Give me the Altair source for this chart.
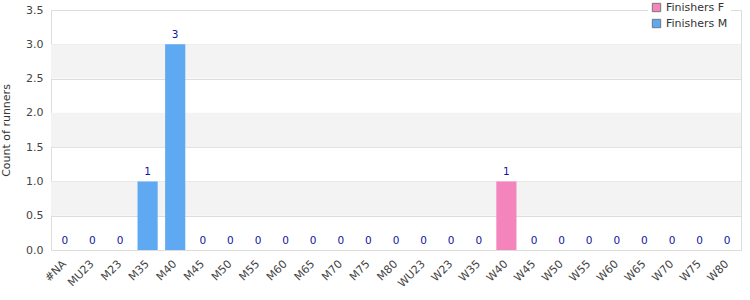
import altair as alt
import pandas as pd

categories = ["#NA", "MU23", "M23", "M35", "M40", "M45", "M50", "M55", "M60", "M65",
              "M70", "M75", "M80", "WU23", "W23", "W35", "W40", "W45", "W50", "W55",
              "W60", "W65", "W70", "W75", "W80"]
finishers_f = [0, 0, 0, 0, 0, 0, 0, 0, 0, 0, 0, 0, 0, 0, 0, 0, 1, 0, 0, 0, 0, 0, 0, 0, 0]
finishers_m = [0, 0, 0, 1, 3, 0, 0, 0, 0, 0, 0, 0, 0, 0, 0, 0, 0, 0, 0, 0, 0, 0, 0, 0, 0]
series_names = ["Finishers F", "Finishers M"]
series_colors = ["#F384BC", "#5EA9F2"]
band_lo = [0.5, 1.5, 2.5]
band_hi = [1.0, 2.0, 3.0]
y_ticks = [0, 0.5, 1, 1.5, 2, 2.5, 3, 3.5]

rows = []
for c, f, m in zip(categories, finishers_f, finishers_m):
    rows.append({"cat": c, "series": "Finishers F", "value": f, "order": 0})
    rows.append({"cat": c, "series": "Finishers M", "value": m, "order": 1})
df = pd.DataFrame(rows)
tot = pd.DataFrame({"cat": categories, "total": [f + m for f, m in zip(finishers_f, finishers_m)]})
bands = pd.DataFrame({"lo": band_lo, "hi": band_hi})

FONT = "DejaVu Sans"
xenc = alt.X("cat:N", sort=categories, title=None,
             scale=alt.Scale(paddingInner=0.27, paddingOuter=0.135),
             axis=alt.Axis(labelAngle=-45, labelAlign="right", labelBaseline="middle",
                           ticks=False, domain=False, labelColor="#444444",
                           labelFontSize=11, labelPadding=12, labelFont=FONT,
                           labelOverlap=False))
yscale = alt.Scale(domain=[0, 3.5], nice=False)
yaxis = alt.Axis(values=y_ticks, format=".1f", labelOverlap=False,
                 ticks=False, domain=False, grid=True, gridColor="#DDDDDD",
                 labelColor="#444444", labelFontSize=11, labelFont=FONT,
                 titleColor="#333333", titleFontSize=11, titleFont=FONT,
                 titleFontWeight="normal", labelPadding=8, titlePadding=14)

band_layer = alt.Chart(bands).mark_rect(color="#F3F3F3").encode(
    y=alt.Y("lo:Q", scale=yscale, title="Count of runners", axis=yaxis), y2="hi:Q")

bars = alt.Chart(df).mark_bar().encode(
    x=xenc,
    y=alt.Y("value:Q", scale=yscale, stack="zero", title="Count of runners", axis=yaxis),
    color=alt.Color("series:N", sort=series_names,
                    scale=alt.Scale(domain=series_names, range=series_colors),
                    legend=alt.Legend(title=None, orient="none", legendX=597, legendY=-11,
                                      symbolType="square", symbolSize=70,
                                      symbolStrokeColor="#777777", symbolStrokeWidth=1,
                                      labelFontSize=11, labelFont=FONT, labelColor="#333333",
                                      fillColor="white", padding=3, rowPadding=3)),
    order=alt.Order("order:Q"),
)

labels = alt.Chart(tot).mark_text(baseline="bottom", dy=-4, fontSize=10.5, font=FONT,
                                  color="#1414A0").encode(
    x=alt.X("cat:N", sort=categories),
    y=alt.Y("total:Q", scale=yscale, title="Count of runners", axis=yaxis),
    text="total:Q")

chart = alt.layer(band_layer, bars, labels).properties(
    width=690, height=240,
    autosize=alt.AutoSizeParams(type="none"),
    padding={"left": 51, "top": 10, "right": 9, "bottom": 50},
    background="white",
).configure_view(stroke="#DDDDDD", strokeWidth=1)

chart.save("out.html", embed_options={"renderer": "svg", "actions": False})
